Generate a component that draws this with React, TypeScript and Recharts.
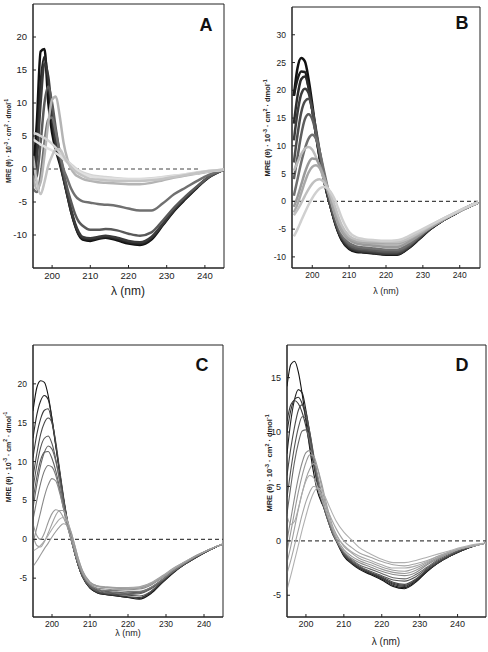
import React from "react";
import { LineChart, Line, XAxis, YAxis, ReferenceLine, ReferenceArea } from "recharts";

// wavelength grid (nm) shared by all panels; panel D's frame runs a bit past 245
const WAVELENGTHS = [195, 196, 197, 198, 199, 200, 201, 202, 203, 204, 205, 206, 207, 208, 210, 212, 214, 217, 220, 223, 226, 229, 232, 235, 238, 241, 245];
const WAVELENGTHS_D = [...WAVELENGTHS, 247.5];

const X_TICKS = [200, 210, 220, 230, 240];

// Panel A — MRE x 10^-3, darkest to lightest
const A_SERIES = [
  [-1, 7, 17.8, 18.2, 10, 5.5, 2.8, 0.8, -1.5, -4, -6.5, -8.5, -10, -10.7, -10.9, -10.6, -10.4, -10.8, -11.3, -11.5, -10.7, -8.5, -6.3, -4.5, -2.8, -1.3, -0.1],
  [-2, 3, 13, 17, 13, 7.5, 3.5, 1.2, -1.4, -4, -6.5, -8.5, -9.9, -10.5, -10.7, -10.5, -10.3, -10.6, -11.1, -11.3, -10.5, -8.4, -6.2, -4.4, -2.7, -1.2, -0.1],
  [-1.5, 1.5, 10, 16, 14, 8.5, 4, 1.5, -1.2, -3.8, -6.2, -8.2, -9.6, -10.3, -10.5, -10.3, -10.1, -10.4, -10.9, -11.1, -10.3, -8.3, -6.1, -4.3, -2.7, -1.2, -0.1],
  [-2, -1, 4, 10, 12.5, 10, 6, 2.5, -0.5, -3, -5, -6.8, -8, -8.6, -9.2, -9.2, -9.1, -9.3, -9.8, -10.1, -9.6, -7.8, -5.8, -4.1, -2.6, -1.2, -0.1],
  [-3, -3.5, -1, 4, 7.5, 7.8, 5.5, 2.5, 0, -1.5, -3, -4, -4.6, -4.9, -5.1, -5.3, -5.4, -5.6, -6, -6.3, -6.3, -5.2, -3.8, -2.8, -1.8, -0.9, -0.1],
  [-1, -3, -2, 2, 7, 10.5, 11, 8, 4, 1.5, 0, -0.8, -1.2, -1.5, -1.8, -2, -2.1, -2.2, -2.3, -2.3, -2.1, -1.7, -1.3, -1, -0.7, -0.4, -0.1],
  [5.5, 5.3, 5, 4.7, 4.3, 3.8, 3.2, 2.5, 1.8, 1.2, 0.7, 0.2, -0.2, -0.5, -0.9, -1.1, -1.2, -1.4, -1.5, -1.5, -1.4, -1.2, -1, -0.8, -0.5, -0.3, -0.1],
  [4.5, 4.1, 3.7, 3.4, 3.1, 2.8, 2.4, 2, 1.5, 1, 0.5, 0, -0.4, -0.7, -1.1, -1.3, -1.4, -1.5, -1.6, -1.6, -1.5, -1.3, -1.1, -0.8, -0.6, -0.3, -0.1],
  [2, -2, -3.8, -2, 0.5, 2, 3, 3, 2, 1, 0.3, -0.3, -0.7, -1, -1.5, -1.6, -1.7, -1.8, -1.8, -1.8, -1.7, -1.5, -1.2, -0.9, -0.6, -0.3, -0.1],
];
const A_COLORS = ["#111", "#262626", "#3a3a3a", "#5a5a5a", "#707070", "#b4b4b4", "#d4d4d4", "#e0e0e0", "#c4c4c4"];
const A_Y_TICKS = [-10, -5, 0, 5, 10, 15, 20];

// Panel B
const B_SERIES = [
  [19, 24, 25.8, 25.2, 22, 17.5, 12.5, 8, 4.5, 1.5, -1, -3.5, -5.5, -7, -8.6, -9.1, -9.2, -9.4, -9.6, -9.6, -8.5, -6.8, -5, -3.6, -2.5, -1.4, -0.2],
  [19, 22, 23.4, 23.3, 20.5, 16.5, 12, 7.8, 4.3, 1.4, -1, -3.4, -5.4, -6.9, -8.5, -9, -9.1, -9.3, -9.5, -9.5, -8.4, -6.7, -5, -3.6, -2.5, -1.4, -0.2],
  [14, 19, 22, 22.5, 20.5, 16.5, 12, 8, 4.5, 1.5, -1, -3.3, -5.3, -6.8, -8.4, -8.9, -9.1, -9.3, -9.5, -9.5, -8.4, -6.7, -5, -3.6, -2.5, -1.4, -0.2],
  [11, 16, 19.3, 20.3, 19.5, 16.5, 12.5, 8.5, 4.8, 1.6, -1, -3.3, -5.2, -6.6, -8.2, -8.8, -9, -9.2, -9.4, -9.4, -8.3, -6.6, -4.9, -3.6, -2.5, -1.4, -0.2],
  [7, 12, 16, 18, 18.5, 16.5, 13, 9, 5.2, 2, -0.8, -3.1, -5, -6.4, -8, -8.6, -8.8, -9, -9.2, -9.2, -8.2, -6.5, -4.9, -3.5, -2.4, -1.4, -0.2],
  [4, 8, 12, 14.8, 15.7, 14.8, 12.3, 9, 5.5, 2.3, -0.5, -2.9, -4.8, -6.2, -7.8, -8.4, -8.6, -8.8, -9, -9, -8, -6.4, -4.8, -3.5, -2.4, -1.4, -0.2],
  [1, 4, 7, 9.5, 11.3, 12, 11.3, 9, 6, 3, 0.2, -2.3, -4.3, -5.9, -7.5, -8.1, -8.3, -8.5, -8.7, -8.7, -7.8, -6.3, -4.7, -3.4, -2.4, -1.4, -0.2],
  [5.5, 7, 8.5, 9.5, 9.8, 9.3, 8, 6.2, 4.3, 2.3, 0.3, -2, -4, -5.5, -7, -7.5, -7.6, -7.8, -8, -8, -7.2, -6, -4.7, -3.5, -2.4, -1.4, -0.2],
  [-1, 0.8, 3, 5.2, 6.9, 7.7, 7.6, 6.5, 4.7, 2.6, 0.5, -1.8, -3.8, -5.3, -6.9, -7.6, -7.8, -8, -8.2, -8.2, -7.4, -6.1, -4.7, -3.5, -2.4, -1.4, -0.2],
  [-2, -0.5, 1.5, 3.5, 5.2, 6.2, 6.5, 6, 4.6, 2.8, 0.8, -1.4, -3.4, -5, -6.6, -7.2, -7.4, -7.5, -7.6, -7.6, -6.9, -5.8, -4.6, -3.4, -2.4, -1.4, -0.2],
  [-2.5, -1.5, -0.3, 1, 2.2, 3.2, 3.8, 4, 3.6, 2.6, 1.2, -0.6, -2.6, -4.3, -6.2, -6.9, -7.1, -7.2, -7.3, -7.3, -6.7, -5.6, -4.4, -3.3, -2.3, -1.3, -0.2],
  [-6.3, -5, -3.5, -2, -0.6, 0.6, 1.6, 2.3, 2.6, 2.4, 1.7, 0.5, -1.2, -3, -5.5, -6.5, -6.8, -7, -7.1, -7, -6.3, -5.3, -4.3, -3.3, -2.3, -1.3, -0.2],
];
const B_COLORS = ["#111", "#1e1e1e", "#2c2c2c", "#3c3c3c", "#4c4c4c", "#5e5e5e", "#707070", "#bdbdbd", "#9a9a9a", "#a8a8a8", "#c0c0c0", "#d0d0d0"];
const B_Y_TICKS = [-10, -5, 0, 5, 10, 15, 20, 25, 30];

// Panel C
const C_SERIES = [
  [16.5, 19.5, 20.4, 20.2, 18.5, 15.5, 12, 8.5, 5.2, 2.4, 0.2, -1.8, -3.5, -4.8, -6.3, -6.9, -7.1, -7.3, -7.5, -7.7, -7, -5.6, -4.3, -3.2, -2.3, -1.5, -0.6],
  [13, 16, 17.8, 18.5, 18, 15.5, 12.2, 8.7, 5.3, 2.5, 0.2, -1.8, -3.5, -4.8, -6.3, -6.9, -7.1, -7.3, -7.5, -7.6, -6.9, -5.5, -4.2, -3.2, -2.3, -1.5, -0.6],
  [10.5, 13.5, 15.5, 16.6, 16.8, 15, 12, 8.7, 5.4, 2.5, 0.2, -1.8, -3.5, -4.8, -6.2, -6.8, -7, -7.2, -7.4, -7.5, -6.8, -5.5, -4.2, -3.2, -2.3, -1.5, -0.6],
  [8, 11, 13.5, 15, 15.6, 15, 12.5, 9, 5.6, 2.6, 0.2, -1.8, -3.5, -4.8, -6.2, -6.8, -7, -7.1, -7.2, -7.3, -6.7, -5.4, -4.2, -3.2, -2.3, -1.5, -0.6],
  [6.5, 9.5, 11.8, 13, 13.3, 12.3, 10.3, 7.6, 4.8, 2.2, 0.1, -1.8, -3.4, -4.7, -6.1, -6.7, -6.9, -7, -7.1, -7, -6.4, -5.3, -4.1, -3.1, -2.2, -1.4, -0.6],
  [4, 7, 9.5, 11.2, 12, 11.6, 10, 7.6, 4.9, 2.3, 0.1, -1.8, -3.4, -4.7, -6.1, -6.6, -6.8, -6.9, -7, -6.9, -6.3, -5.2, -4.1, -3.1, -2.2, -1.4, -0.6],
  [5, 8, 10.2, 11.2, 11.3, 10.4, 8.8, 6.6, 4.2, 1.9, 0, -1.8, -3.4, -4.7, -6, -6.5, -6.7, -6.8, -6.9, -6.8, -6.2, -5.2, -4, -3.1, -2.2, -1.4, -0.6],
  [2.5, 5, 7.2, 8.8, 9.5, 9.3, 8.2, 6.3, 4, 1.9, 0, -1.8, -3.3, -4.5, -5.9, -6.4, -6.6, -6.6, -6.7, -6.7, -6.2, -5.2, -4.1, -3.1, -2.2, -1.4, -0.6],
  [-0.5, 1.5, 3.5, 5.5, 7, 7.8, 7.5, 6, 4, 1.9, 0, -1.7, -3.2, -4.4, -5.8, -6.3, -6.4, -6.5, -6.5, -6.4, -5.9, -5, -3.9, -3, -2.2, -1.4, -0.6],
  [2, 0.5, 0, 0.8, 2.2, 3.3, 3.8, 3.6, 2.8, 1.6, 0.2, -1.4, -3, -4.3, -5.7, -6.1, -6.2, -6.2, -6.3, -6.2, -5.7, -4.8, -3.8, -2.9, -2.1, -1.4, -0.6],
  [0.5, -0.8, -1, -0.3, 0.8, 2, 3.1, 3.7, 3.7, 2.6, 0.8, -1, -2.8, -4.1, -5.6, -6, -6.1, -6.2, -6.2, -6.1, -5.6, -4.7, -3.7, -2.9, -2.1, -1.4, -0.6],
  [-1.5, -1.2, -0.8, -0.2, 0.5, 1.3, 2, 2.6, 2.8, 2.3, 1, -0.8, -2.6, -4, -5.5, -6, -6.2, -6.3, -6.3, -6.2, -5.7, -4.8, -3.8, -2.9, -2.1, -1.4, -0.6],
  [-3.5, -2.8, -2, -1.2, -0.5, 0.3, 1, 1.6, 2, 1.8, 0.9, -0.8, -2.6, -4, -5.5, -6, -6.2, -6.3, -6.4, -6.3, -5.8, -4.9, -3.9, -3, -2.1, -1.4, -0.6],
];
const C_COLORS = ["#111", "#2a2a2a", "#3a3a3a", "#4a4a4a", "#555", "#666", "#5e5e5e", "#777", "#888", "#999", "#a0a0a0", "#aaa", "#9a9a9a"];
const C_Y_TICKS = [-5, 0, 5, 10, 15, 20];

// Panel D (one extra point at 247.5 nm)
const D_SERIES = [
  [14.2, 16.2, 16.5, 15.5, 13.5, 11, 8.5, 6.3, 4.6, 3.6, 2.9, 1.8, 0.8, 0, -1.4, -2.1, -2.6, -3.1, -3.6, -4.2, -4.4, -3.8, -2.8, -2, -1.4, -0.9, -0.4, -0.2],
  [8, 11, 13, 13.9, 13.6, 12, 9.8, 7.5, 5.5, 4, 2.9, 1.8, 0.8, 0, -1.3, -2, -2.5, -3, -3.5, -4.1, -4.3, -3.7, -2.8, -2, -1.4, -0.9, -0.4, -0.2],
  [10, 12, 13, 13.2, 12.6, 11.3, 9.4, 7.3, 5.4, 3.9, 2.8, 1.7, 0.7, 0, -1.3, -2, -2.5, -3, -3.4, -4, -4.2, -3.6, -2.7, -2, -1.4, -0.9, -0.4, -0.2],
  [11, 12.5, 12.9, 12.6, 11.8, 10.5, 8.8, 7, 5.2, 3.8, 2.7, 1.7, 0.7, 0, -1.3, -2, -2.4, -2.9, -3.4, -3.9, -4.1, -3.6, -2.7, -2, -1.4, -0.9, -0.4, -0.2],
  [6, 8.5, 10.5, 12, 12.5, 11.8, 10, 7.8, 5.7, 4, 2.8, 1.7, 0.7, 0, -1.2, -1.9, -2.4, -2.9, -3.3, -3.8, -4, -3.5, -2.6, -1.9, -1.3, -0.8, -0.4, -0.2],
  [4, 6.5, 8.7, 10.4, 11.4, 11.3, 10, 8, 5.9, 4.1, 2.8, 1.7, 0.7, 0, -1.2, -1.8, -2.3, -2.8, -3.2, -3.6, -3.7, -3.3, -2.5, -1.8, -1.3, -0.8, -0.4, -0.2],
  [2.5, 5, 7.3, 9, 10.1, 10.2, 9.2, 7.5, 5.7, 4, 2.7, 1.6, 0.7, 0, -1.1, -1.7, -2.2, -2.6, -3, -3.4, -3.5, -3.1, -2.4, -1.7, -1.2, -0.8, -0.4, -0.2],
  [0, 2, 4, 5.8, 7.2, 8.1, 8.3, 7.6, 6.2, 4.6, 3.1, 1.9, 0.9, 0.1, -1, -1.6, -2, -2.4, -2.8, -3.1, -3.2, -2.9, -2.2, -1.6, -1.1, -0.7, -0.4, -0.2],
  [-1, 0.8, 2.7, 4.5, 6, 7.2, 7.9, 7.8, 6.8, 5.2, 3.6, 2.2, 1.1, 0.3, -0.8, -1.4, -1.8, -2.2, -2.6, -2.9, -3, -2.7, -2.1, -1.5, -1.1, -0.7, -0.4, -0.2],
  [-2, -0.5, 1.2, 2.9, 4.4, 5.7, 6.6, 7.1, 6.7, 5.5, 4, 2.6, 1.4, 0.6, -0.5, -1.1, -1.6, -2, -2.4, -2.7, -2.8, -2.5, -2, -1.5, -1, -0.7, -0.4, -0.2],
  [2.3, 1.5, 1.8, 3, 4.4, 5.5, 6, 5.8, 5, 4, 3, 2, 1.2, 0.5, -0.4, -1, -1.4, -1.8, -2.2, -2.5, -2.5, -2.3, -1.9, -1.4, -1, -0.7, -0.4, -0.2],
  [-3, -1.8, -0.4, 1, 2.4, 3.6, 4.5, 5, 4.9, 4.3, 3.5, 2.6, 1.8, 1.1, 0, -0.6, -1.1, -1.5, -1.9, -2.2, -2.3, -2.1, -1.8, -1.4, -1, -0.7, -0.4, -0.2],
  [-4.5, -3.2, -1.8, -0.4, 1, 2.3, 3.5, 4.4, 4.85, 4.7, 4.1, 3.3, 2.5, 1.8, 0.8, 0.1, -0.6, -1.2, -1.7, -2, -2, -1.8, -1.5, -1.2, -0.9, -0.6, -0.3, -0.2],
];
const D_COLORS = ["#111", "#222", "#333", "#3d3d3d", "#4a4a4a", "#555", "#666", "#8a8a8a", "#999", "#9e9e9e", "#aaa", "#a5a5a5", "#b0b0b0"];
const D_Y_TICKS = [-5, 0, 5, 10, 15];

const FONT = '"Liberation Sans", Arial, sans-serif';

function toRows(wavelengths: number[], series: number[][]) {
  return wavelengths.map((w, i) => {
    const row: Record<string, number> = { w };
    series.forEach((s, j) => {
      row["s" + j] = s[i];
    });
    return row;
  });
}

type PanelProps = {
  letter: string;
  rows: Record<string, number>[];
  colors: string[];
  strokeWidth: number;
  box: { x0: number; x1: number; y0: number; y1: number };
  xDomain: [number, number];
  yDomain: [number, number];
  yTicks: number[];
  tickFont: number;
  zeroTo?: number;
  letterPos: [number, number];
  yLabel: { x: number; y: number; size: number };
  xLabel: { x: number; y: number; size: number };
};

function YLabel({ x, y, size }: { x: number; y: number; size: number }) {
  const sup = { fontSize: size * 0.7, verticalAlign: "super" as const, lineHeight: 0 };
  return (
    <div
      style={{
        position: "absolute",
        left: x,
        top: y,
        transform: "translate(-50%, -50%) rotate(-90deg)",
        whiteSpace: "nowrap",
        fontFamily: FONT,
        fontWeight: "bold",
        fontSize: size,
        color: "#222",
        lineHeight: 1,
      }}
    >
      MRE (θ) · 10<span style={sup}>-3</span> · cm<span style={sup}>2</span> · dmol<span style={sup}>-1</span>
    </div>
  );
}

function Panel(p: PanelProps) {
  const yAxisW = 30;
  const top = 2;
  const xAxisH = 20;
  const width = p.box.x1 - p.box.x0 + yAxisW + 4;
  const height = p.box.y1 - p.box.y0 + top + xAxisH;
  const tick = { fontSize: p.tickFont, fill: "#222", fontFamily: FONT };
  return (
    <>
      <div style={{ position: "absolute", left: p.box.x0 - yAxisW, top: p.box.y0 - top }}>
        <LineChart width={width} height={height} data={p.rows} margin={{ top, right: 4, bottom: 0, left: 0 }}>
          <ReferenceArea
            x1={p.xDomain[0]}
            x2={p.xDomain[1]}
            y1={p.yDomain[0]}
            y2={p.yDomain[1]}
            fill="none"
            stroke="#222"
            strokeWidth={1}
            fillOpacity={0}
          />
          <XAxis
            dataKey="w"
            type="number"
            domain={p.xDomain}
            ticks={X_TICKS}
            allowDataOverflow
            height={xAxisH}
            tick={tick}
            tickSize={-3}
            tickMargin={7}
            stroke="#222"
          />
          <YAxis
            type="number"
            domain={p.yDomain}
            ticks={p.yTicks}
            allowDataOverflow
            width={yAxisW}
            tick={tick}
            tickSize={-3}
            tickMargin={9}
            stroke="#222"
          />
          {p.zeroTo ? (
            <ReferenceLine
              segment={[
                { x: p.xDomain[0], y: 0 },
                { x: p.zeroTo, y: 0 },
              ]}
              stroke="#444"
              strokeDasharray="4 3"
              strokeWidth={1.2}
            />
          ) : (
            <ReferenceLine y={0} stroke="#444" strokeDasharray="4 3" strokeWidth={1.2} />
          )}
          {p.colors.map((c, i) => (
            <Line
              key={i}
              type="monotone"
              dataKey={"s" + i}
              stroke={c}
              strokeWidth={p.strokeWidth}
              dot={false}
              isAnimationActive={false}
            />
          ))}
        </LineChart>
      </div>
      <div
        style={{
          position: "absolute",
          left: p.letterPos[0],
          top: p.letterPos[1],
          transform: "translate(-50%, -50%)",
          fontFamily: FONT,
          fontWeight: "bold",
          fontSize: 18,
          color: "#111",
        }}
      >
        {p.letter}
      </div>
      <YLabel {...p.yLabel} />
      <div
        style={{
          position: "absolute",
          left: p.xLabel.x,
          top: p.xLabel.y,
          transform: "translate(-50%, -50%)",
          fontFamily: FONT,
          fontSize: p.xLabel.size,
          color: "#222",
          whiteSpace: "nowrap",
        }}
      >
        λ (nm)
      </div>
    </>
  );
}

export default function App() {
  return (
    <div style={{ position: "absolute", left: 0, top: 0, width: 488, height: 652, background: "#fff", overflow: "hidden" }}>
      <Panel
        letter="A"
        rows={toRows(WAVELENGTHS, A_SERIES)}
        colors={A_COLORS}
        strokeWidth={2.5}
        box={{ x0: 33, x1: 224, y0: 4, y1: 268 }}
        xDomain={[195, 245]}
        yDomain={[-15, 25]}
        yTicks={A_Y_TICKS}
        tickFont={9.5}
        zeroTo={238.5}
        letterPos={[206, 25]}
        yLabel={{ x: 9, y: 141, size: 6.5 }}
        xLabel={{ x: 128, y: 291, size: 12 }}
      />
      <Panel
        letter="B"
        rows={toRows(WAVELENGTHS, B_SERIES)}
        colors={B_COLORS}
        strokeWidth={2.5}
        box={{ x0: 292, x1: 480, y0: 7, y1: 268 }}
        xDomain={[194.5, 245.5]}
        yDomain={[-12, 35]}
        yTicks={B_Y_TICKS}
        tickFont={8.5}
        letterPos={[462, 23]}
        yLabel={{ x: 268, y: 128, size: 7.5 }}
        xLabel={{ x: 386, y: 291, size: 9 }}
      />
      <Panel
        letter="C"
        rows={toRows(WAVELENGTHS, C_SERIES)}
        colors={C_COLORS}
        strokeWidth={1.1}
        box={{ x0: 33, x1: 223, y0: 345, y1: 617 }}
        xDomain={[195, 245]}
        yDomain={[-10, 25]}
        yTicks={C_Y_TICKS}
        tickFont={8.5}
        letterPos={[202, 365]}
        yLabel={{ x: 8, y: 457, size: 7 }}
        xLabel={{ x: 128, y: 633, size: 9 }}
      />
      <Panel
        letter="D"
        rows={toRows(WAVELENGTHS_D, D_SERIES)}
        colors={D_COLORS}
        strokeWidth={1.1}
        box={{ x0: 287, x1: 486, y0: 345, y1: 617 }}
        xDomain={[195, 247.5]}
        yDomain={[-7, 18]}
        yTicks={D_Y_TICKS}
        tickFont={9}
        letterPos={[462, 365]}
        yLabel={{ x: 270, y: 463, size: 7.5 }}
        xLabel={{ x: 386, y: 641, size: 10 }}
      />
    </div>
  );
}
